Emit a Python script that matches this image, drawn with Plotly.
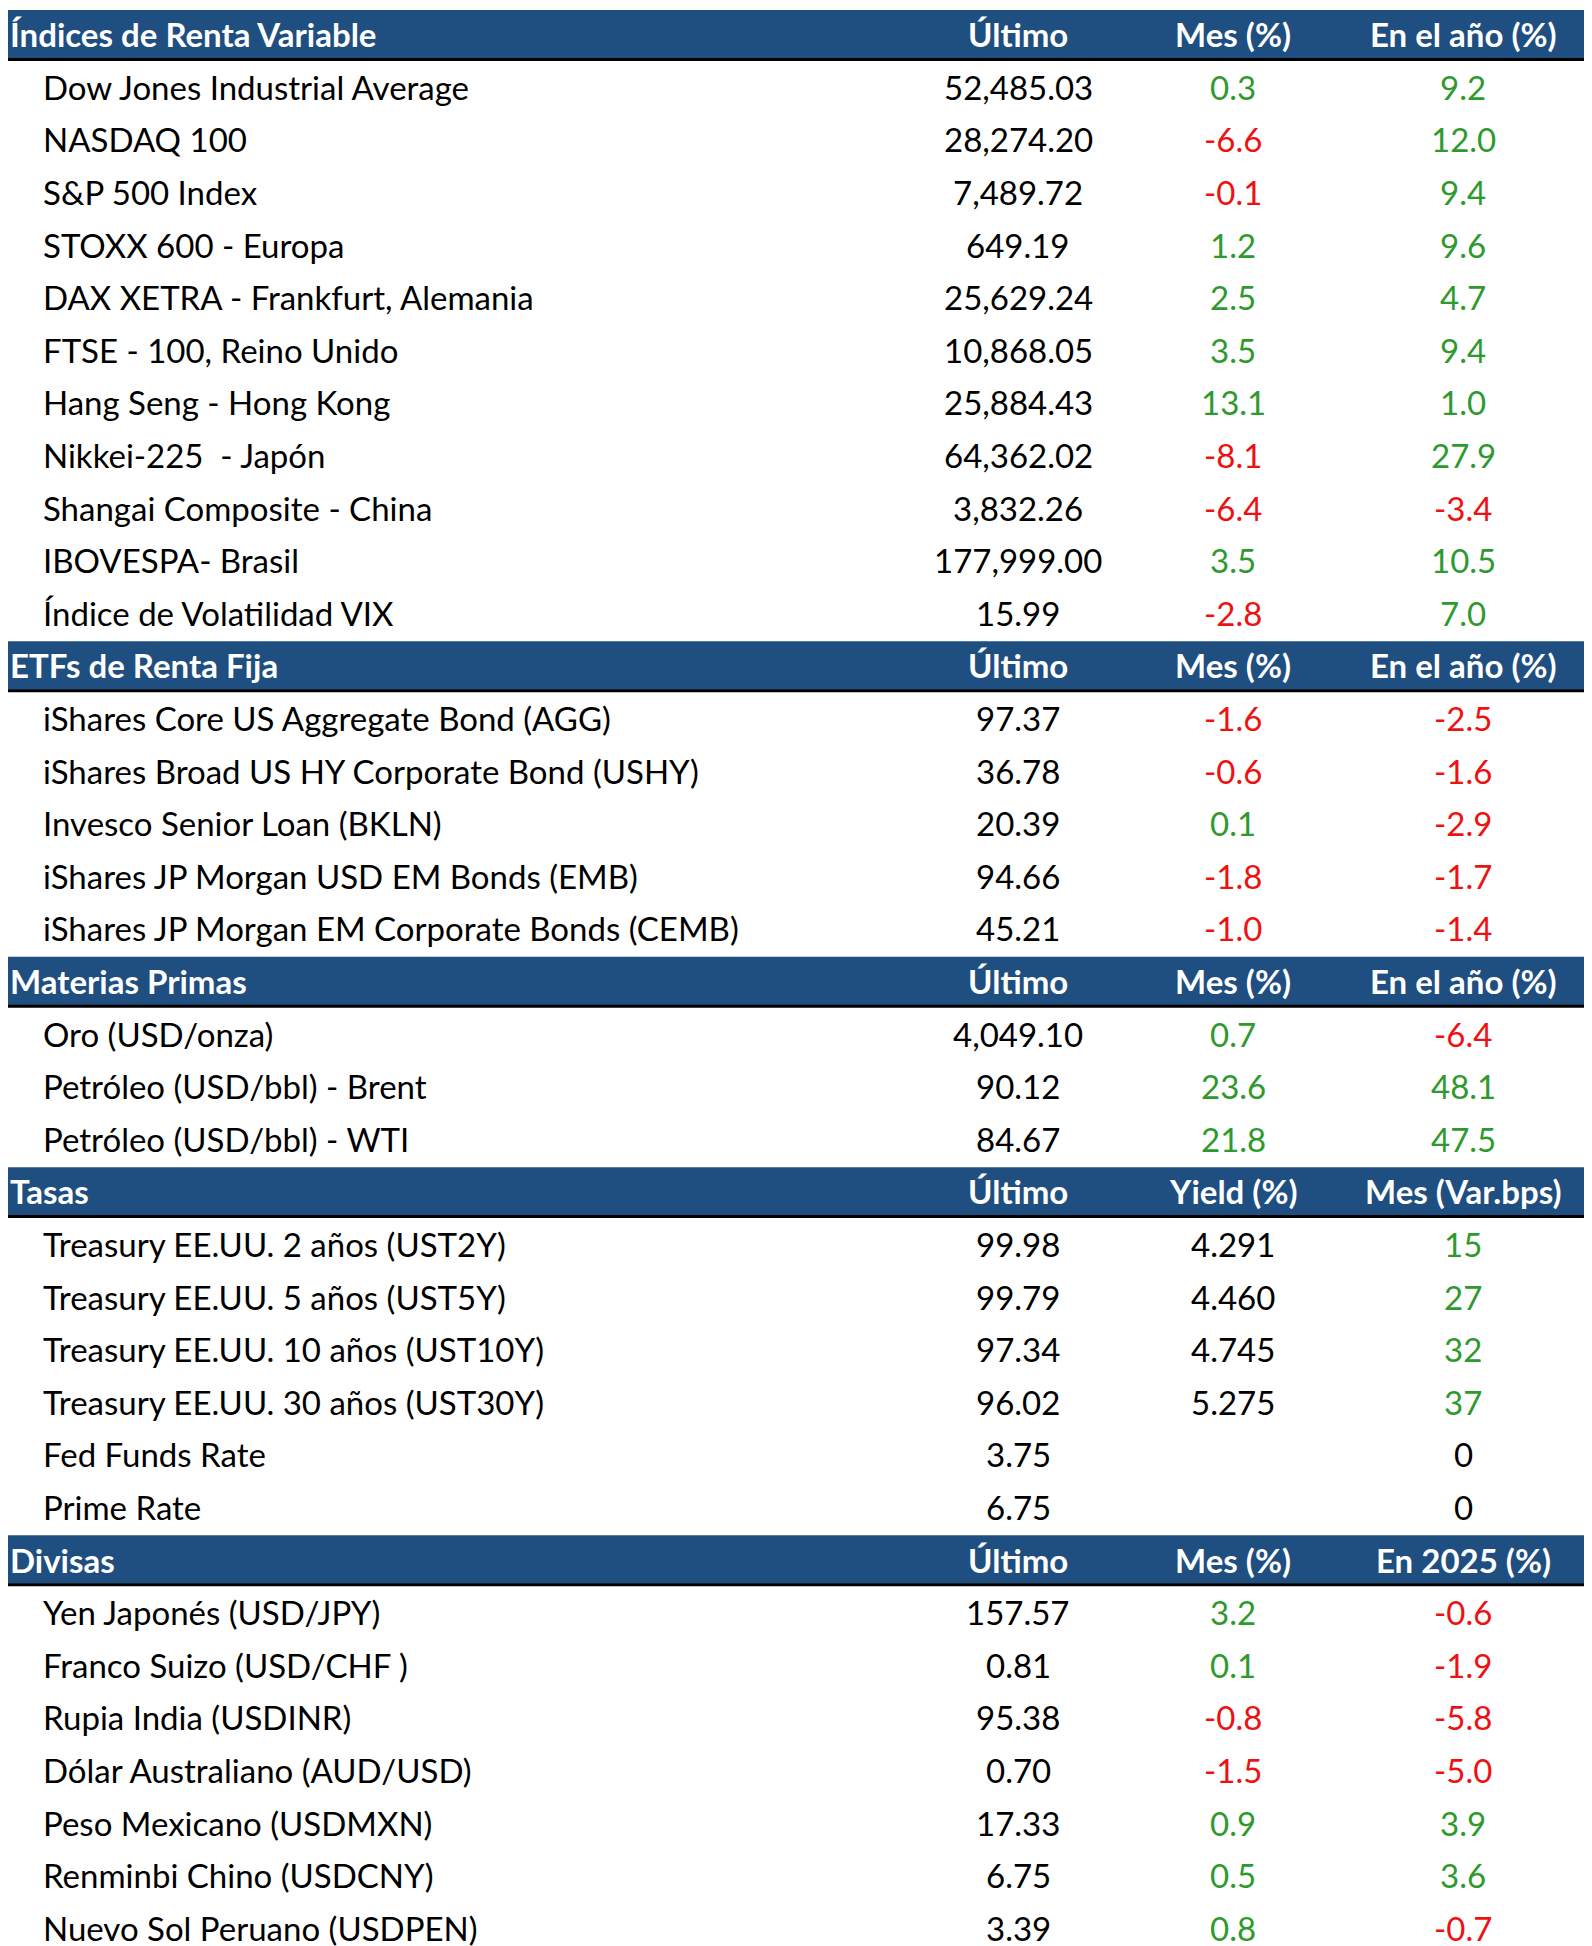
import plotly.graph_objects as go

# sections: title, column headers, row names, ultimo, col2, col3
sec_titles = ["Índices de Renta Variable", "ETFs de Renta Fija", "Materias Primas", "Tasas", "Divisas"]
sec_headers = [
    ["Último", "Mes (%)", "En el año (%)"],
    ["Último", "Mes (%)", "En el año (%)"],
    ["Último", "Mes (%)", "En el año (%)"],
    ["Último", "Yield (%)", "Mes (Var.bps)"],
    ["Último", "Mes (%)", "En 2025 (%)"],
]
names = [
    ["Dow Jones Industrial Average", "NASDAQ 100", "S&P 500 Index", "STOXX 600 - Europa",
     "DAX XETRA - Frankfurt, Alemania", "FTSE - 100, Reino Unido", "Hang Seng - Hong Kong",
     "Nikkei-225  - Japón", "Shangai Composite - China", "IBOVESPA- Brasil", "Índice de Volatilidad VIX"],
    ["iShares Core US Aggregate Bond (AGG)", "iShares Broad US HY Corporate Bond (USHY)",
     "Invesco Senior Loan (BKLN)", "iShares JP Morgan USD EM Bonds (EMB)",
     "iShares JP Morgan EM Corporate Bonds (CEMB)"],
    ["Oro (USD/onza)", "Petróleo (USD/bbl) - Brent", "Petróleo (USD/bbl) - WTI"],
    ["Treasury EE.UU. 2 años (UST2Y)", "Treasury EE.UU. 5 años (UST5Y)",
     "Treasury EE.UU. 10 años (UST10Y)", "Treasury EE.UU. 30 años (UST30Y)",
     "Fed Funds Rate", "Prime Rate"],
    ["Yen Japonés (USD/JPY)", "Franco Suizo (USD/CHF )", "Rupia India (USDINR)",
     "Dólar Australiano (AUD/USD)", "Peso Mexicano (USDMXN)", "Renminbi Chino (USDCNY)",
     "Nuevo Sol Peruano (USDPEN)"],
]
ultimo = [
    ["52,485.03", "28,274.20", "7,489.72", "649.19", "25,629.24", "10,868.05", "25,884.43",
     "64,362.02", "3,832.26", "177,999.00", "15.99"],
    ["97.37", "36.78", "20.39", "94.66", "45.21"],
    ["4,049.10", "90.12", "84.67"],
    ["99.98", "99.79", "97.34", "96.02", "3.75", "6.75"],
    ["157.57", "0.81", "95.38", "0.70", "17.33", "6.75", "3.39"],
]
col2 = [
    ["0.3", "-6.6", "-0.1", "1.2", "2.5", "3.5", "13.1", "-8.1", "-6.4", "3.5", "-2.8"],
    ["-1.6", "-0.6", "0.1", "-1.8", "-1.0"],
    ["0.7", "23.6", "21.8"],
    ["4.291", "4.460", "4.745", "5.275", "", ""],
    ["3.2", "0.1", "-0.8", "-1.5", "0.9", "0.5", "0.8"],
]
col3 = [
    ["9.2", "12.0", "9.4", "9.6", "4.7", "9.4", "1.0", "27.9", "-3.4", "10.5", "7.0"],
    ["-2.5", "-1.6", "-2.9", "-1.7", "-1.4"],
    ["-6.4", "48.1", "47.5"],
    ["15", "27", "32", "37", "0", "0"],
    ["-0.6", "-1.9", "-5.8", "-5.0", "3.9", "3.6", "-0.7"],
]

BLUE = "#1F4E80"
GREEN = "#2E9A2E"
RED = "#EE1111"
FONT = "Lato"
SIZE = 33
W, H = 1592, 1946
X_NAME, X_HEAD, X_ULT, X_C2, X_C3 = 33, 0, 1010, 1225, 1455


def color_of(v, colored=True):
    if not colored or v == "":
        return "black"
    f = float(v.replace(",", ""))
    return RED if f < 0 else (GREEN if f > 0 else "black")


fig = go.Figure()
shapes, annots = [], []
row = 0
for s, title in enumerate(sec_titles):
    shapes.append(dict(type="rect", x0=0, x1=W, y0=row + 0.04, y1=row + 0.96,
                       fillcolor=BLUE, line_width=0, layer="below"))
    shapes.append(dict(type="line", x0=0, x1=W, y0=row + 0.98, y1=row + 0.98,
                       line=dict(color="black", width=3)))
    yc = row + 0.5
    annots.append(dict(x=X_HEAD, y=yc, text="<b>%s</b>" % title, xanchor="left",
                       font=dict(color="white", size=SIZE, family=FONT)))
    for x, h in zip([X_ULT, X_C2, X_C3], sec_headers[s]):
        annots.append(dict(x=x, y=yc, text="<b>%s</b>" % h, xanchor="center",
                           font=dict(color="white", size=SIZE, family=FONT)))
    row += 1
    for i, n in enumerate(names[s]):
        yc = row + 0.5
        annots.append(dict(x=X_NAME, y=yc, text=n, xanchor="left",
                           font=dict(color="black", size=SIZE, family=FONT)))
        annots.append(dict(x=X_ULT, y=yc, text=ultimo[s][i], xanchor="center",
                           font=dict(color="black", size=SIZE, family=FONT)))
        c2 = col2[s][i]
        annots.append(dict(x=X_C2, y=yc, text=c2, xanchor="center",
                           font=dict(color=color_of(c2, s != 3), size=SIZE, family=FONT)))
        c3 = col3[s][i]
        annots.append(dict(x=X_C3, y=yc, text=c3, xanchor="center",
                           font=dict(color=color_of(c3), size=SIZE, family=FONT)))
        row += 1

for a in annots:
    a.update(xref="x", yref="y", showarrow=False, yanchor="middle")

fig.update_layout(
    width=W, height=H, margin=dict(l=0, r=0, t=0, b=0),
    plot_bgcolor="white", paper_bgcolor="white",
    xaxis=dict(range=[0, W], visible=False, fixedrange=True),
    yaxis=dict(range=[row, 0], visible=False, fixedrange=True),
    shapes=shapes, annotations=annots, showlegend=False,
)
fig.write_html("out.html")
